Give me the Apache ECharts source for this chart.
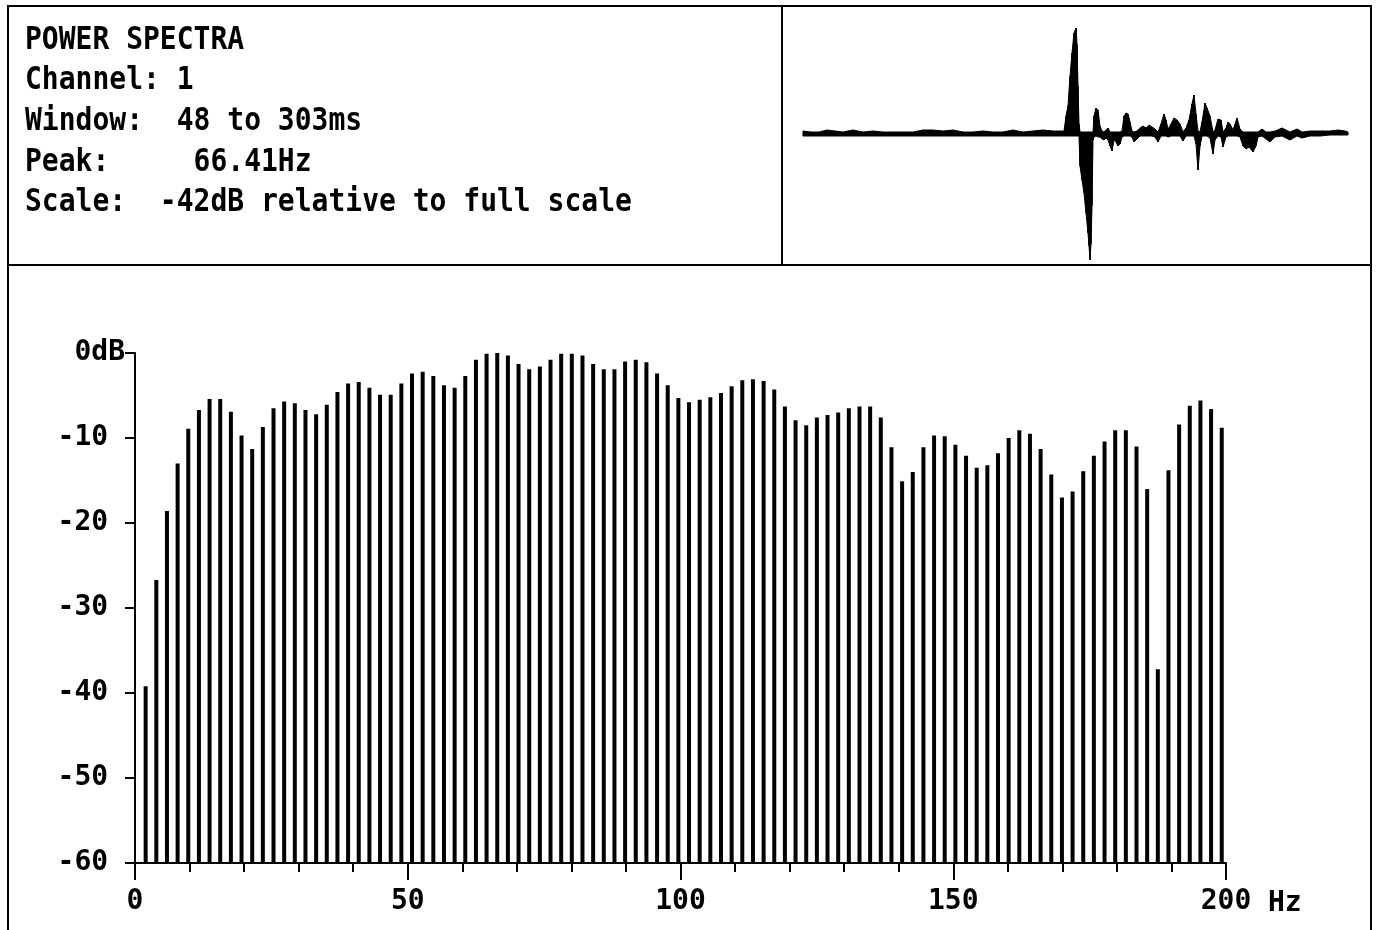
<!DOCTYPE html>
<html>
<head>
<meta charset="utf-8">
<script src="https://cdn.jsdelivr.net/npm/echarts@6/dist/echarts.min.js"></script>
<style>
  html, body { margin: 0; padding: 0; background: #fff; }
  #chart { width: 1379px; height: 930px; }
</style>
</head>
<body>
<div id="chart"></div>
<script>
// ---- header block ----
const headerLines = [
  'POWER SPECTRA',
  'Channel: 1',
  'Window:  48 to 303ms',
  'Peak:     66.41Hz',
  'Scale:  -42dB relative to full scale'
];

// ---- spectrum: FFT bins of 1000/512 Hz, bins 1..102 ----
const BIN_HZ = 1000 / 512;
const powerDb = [
  -39.2, -26.7, -18.6, -13.0, -8.9, -6.7, -5.4, -5.4, -6.9, -9.7,
  -11.3, -8.7, -6.5, -5.7, -5.9, -6.7, -7.2, -6.1, -4.6, -3.6,
  -3.4, -4.1, -4.9, -4.9, -3.6, -2.4, -2.2, -2.7, -3.8, -4.1,
  -2.7, -0.8, -0.1, 0.0, -0.3, -1.3, -1.9, -1.6, -0.8, -0.1,
  -0.1, -0.3, -1.3, -1.9, -1.9, -1.0, -0.8, -1.1, -2.4, -3.8,
  -5.3, -5.8, -5.5, -5.2, -4.7, -3.9, -3.2, -3.1, -3.3, -4.3,
  -6.3, -7.9, -8.5, -7.6, -7.3, -7.0, -6.5, -6.3, -6.3, -7.6,
  -11.1, -15.1, -14.0, -11.1, -9.7, -9.8, -10.8, -12.1, -13.5, -13.2,
  -11.8, -10.0, -9.1, -9.5, -11.3, -14.3, -17.0, -16.3, -13.9, -12.1,
  -10.4, -9.1, -9.1, -11.0, -16.0, -37.2, -13.8, -8.4, -6.2, -5.6,
  -6.6, -8.8
];
const dbTicks = [-60, -50, -40, -30, -20, -10, 0];
const hzTicks = [0, 50, 100, 150, 200];

// ---- time trace (min/max envelope per sample point, ms) ----
const traceMs = [
  0, 8, 16, 24, 32, 40, 50, 60, 70, 80, 90, 100, 110, 120, 130, 140, 150, 160, 170, 180,
  190, 200, 210, 220, 230, 240, 250, 258, 261, 263, 265, 267, 269, 271, 273, 274, 275, 276, 277, 279,
  281, 283, 285, 286, 287, 288, 289, 290, 291, 293, 295, 297, 299, 301, 303, 305, 307, 309, 311, 313,
  315, 317, 319, 321, 323, 325, 327, 329, 331, 334, 337, 340, 343, 346, 349, 352, 355, 358, 361, 363,
  365, 368, 371, 374, 377, 380, 383, 386, 389, 391, 393, 395, 397, 399, 402, 404, 407, 410, 412, 415,
  418, 420, 423, 425, 427, 430, 434, 437, 440, 443, 446, 450, 453, 455, 459, 463, 467, 472, 479, 487,
  494, 499, 507, 517, 527, 535, 542, 545
];
const traceHi = [
  3, 2, 2, 4, 3, 2, 4, 2, 3, 2, 2, 2, 2, 4, 4, 3, 4, 2, 2, 3,
  2, 2, 4, 2, 3, 4, 3, 3, 3, 18, 28, 58, 81, 101, 106, 90, 48, 10, 2, 2,
  2, 2, 2, 2, 2, 2, 2, 2, 18, 26, 24, 8, 3, 2, 4, 6, 2, 2, 2, 2,
  2, 2, 3, 18, 21, 20, 12, 3, 2, 3, 6, 8, 6, 9, 7, 5, 2, 10, 20, 14,
  5, 10, 16, 14, 10, 2, 6, 14, 30, 39, 20, 3, 2, 12, 31, 26, 18, 2, 4, 15,
  14, 2, 6, 12, 10, 4, 16, 5, 2, 2, 2, 2, 2, 2, 5, 2, 2, 3, 6, 2,
  5, 2, 3, 3, 3, 4, 3, 2
];
const traceLo = [
  -2, -2, -2, -2, -2, -2, -2, -2, -2, -2, -2, -2, -2, -2, -2, -2, -2, -2, -2, -2,
  -2, -2, -2, -2, -2, -2, -2, -2, -2, -2, -2, -2, -2, -2, -2, -2, -2, -2, -32, -46,
  -59, -79, -99, -112, -126, -110, -72, -6, -3, -2, -3, -3, -5, -6, -4, -6, -12, -17, -6, -8,
  -12, -10, -3, -2, -2, -2, -2, -3, -8, -5, -2, -2, -2, -2, -2, -3, -8, -2, -2, -2,
  -3, -2, -2, -2, -2, -7, -2, -2, -2, -2, -10, -36, -12, -2, -2, -2, -4, -20, -6, -2,
  -3, -13, -3, -2, -2, -2, -2, -3, -12, -15, -13, -18, -12, -3, -2, -5, -8, -3, -2, -6,
  -2, -4, -2, -2, -1, -1, -1, -1
];

const FONT_FAMILY = '"DejaVu Sans Mono", monospace';
const INK = '#000';

const chart = echarts.init(document.getElementById('chart'), null, { renderer: 'canvas' });

const spectrumData = powerDb.map((v, i) => [(i + 1) * BIN_HZ, v]);
const traceData = [];
for (let i = 0; i < traceMs.length - 1; i++) {
  traceData.push([traceMs[i], traceHi[i], traceLo[i], traceMs[i + 1], traceHi[i + 1], traceLo[i + 1]]);
}

// header lines: tall bold monospace, stretched vertically a little
const headerGraphics = headerLines.map((line, i) => ({
  type: 'text',
  x: 25,
  y: 40.5 + i * 40.6,
  scaleY: 1.15,
  silent: true,
  style: {
    text: line,
    font: 'bold 28px ' + FONT_FAMILY,
    fill: INK,
    verticalAlign: 'middle',
    align: 'left'
  }
}));

const frameGraphics = [
  { type: 'polyline', silent: true, shape: { points: [[8, 931], [8, 6], [1371, 6], [1371, 931]] },
    style: { stroke: INK, lineWidth: 2, fill: null } },
  { type: 'line', silent: true, shape: { x1: 8, y1: 265, x2: 1371, y2: 265 },
    style: { stroke: INK, lineWidth: 2 } },
  { type: 'line', silent: true, shape: { x1: 782, y1: 6, x2: 782, y2: 265 },
    style: { stroke: INK, lineWidth: 2 } }
];

const axisFont = { fontFamily: FONT_FAMILY, fontWeight: 'bold', fontSize: 28, color: INK };

chart.setOption({
  animation: false,
  backgroundColor: '#fff',
  graphic: frameGraphics.concat(headerGraphics),
  grid: [
    { left: 135, top: 353, width: 1091, height: 510 },
    { left: 782, top: 6, right: 9, height: 259 }
  ],
  xAxis: [
    {
      gridIndex: 0,
      type: 'value',
      min: hzTicks[0],
      max: hzTicks[hzTicks.length - 1],
      interval: 50,
      name: 'Hz',
      nameLocation: 'end',
      nameGap: 42,
      nameTextStyle: Object.assign({}, axisFont, { verticalAlign: 'top', padding: [27, 0, 0, 0] }),
      axisLine: { show: true, onZero: false, lineStyle: { color: INK, width: 2 } },
      axisTick: { show: true, length: 17, lineStyle: { color: INK, width: 2 } },
      minorTick: { show: true, splitNumber: 5, length: 9, lineStyle: { color: INK, width: 2 } },
      axisLabel: Object.assign({}, axisFont, { margin: 25 }),
      splitLine: { show: false },
      minorSplitLine: { show: false }
    },
    {
      gridIndex: 1,
      type: 'value',
      min: -21,
      max: 567,
      show: false
    }
  ],
  yAxis: [
    {
      gridIndex: 0,
      type: 'value',
      min: dbTicks[0],
      max: dbTicks[dbTicks.length - 1],
      interval: 10,
      axisLine: { show: true, onZero: false, lineStyle: { color: INK, width: 2 } },
      axisTick: { show: true, length: 10, lineStyle: { color: INK, width: 2 } },
      axisLabel: Object.assign({}, axisFont, {
        margin: 10,
        formatter: v => (v === 0 ? '0dB' : String(v) + ' ')
      }),
      splitLine: { show: false }
    },
    {
      gridIndex: 1,
      type: 'value',
      min: -131,
      max: 128,
      show: false
    }
  ],
  series: [
    {
      name: 'power',
      type: 'custom',
      xAxisIndex: 0,
      yAxisIndex: 0,
      clip: false,
      encode: { x: 0, y: 1 },
      data: spectrumData,
      renderItem(params, api) {
        const f = api.value(0);
        const top = api.coord([f, api.value(1)]);
        const base = api.coord([f, dbTicks[0]]);
        return {
          type: 'rect',
          shape: { x: top[0] - 2, y: top[1], width: 4, height: base[1] - top[1] },
          style: { fill: INK }
        };
      }
    },
    {
      name: 'trace',
      type: 'custom',
      xAxisIndex: 1,
      yAxisIndex: 1,
      clip: false,
      encode: { x: [0, 3], y: [1, 2, 4, 5] },
      data: traceData,
      renderItem(params, api) {
        const p1 = api.coord([api.value(0), api.value(1)]);
        const p2 = api.coord([api.value(3), api.value(4)]);
        const p3 = api.coord([api.value(3), api.value(5)]);
        const p4 = api.coord([api.value(0), api.value(2)]);
        return {
          type: 'polygon',
          shape: { points: [p1, p2, p3, p4] },
          style: { fill: INK, stroke: INK, lineWidth: 1 }
        };
      }
    }
  ]
});
</script>
</body>
</html>
